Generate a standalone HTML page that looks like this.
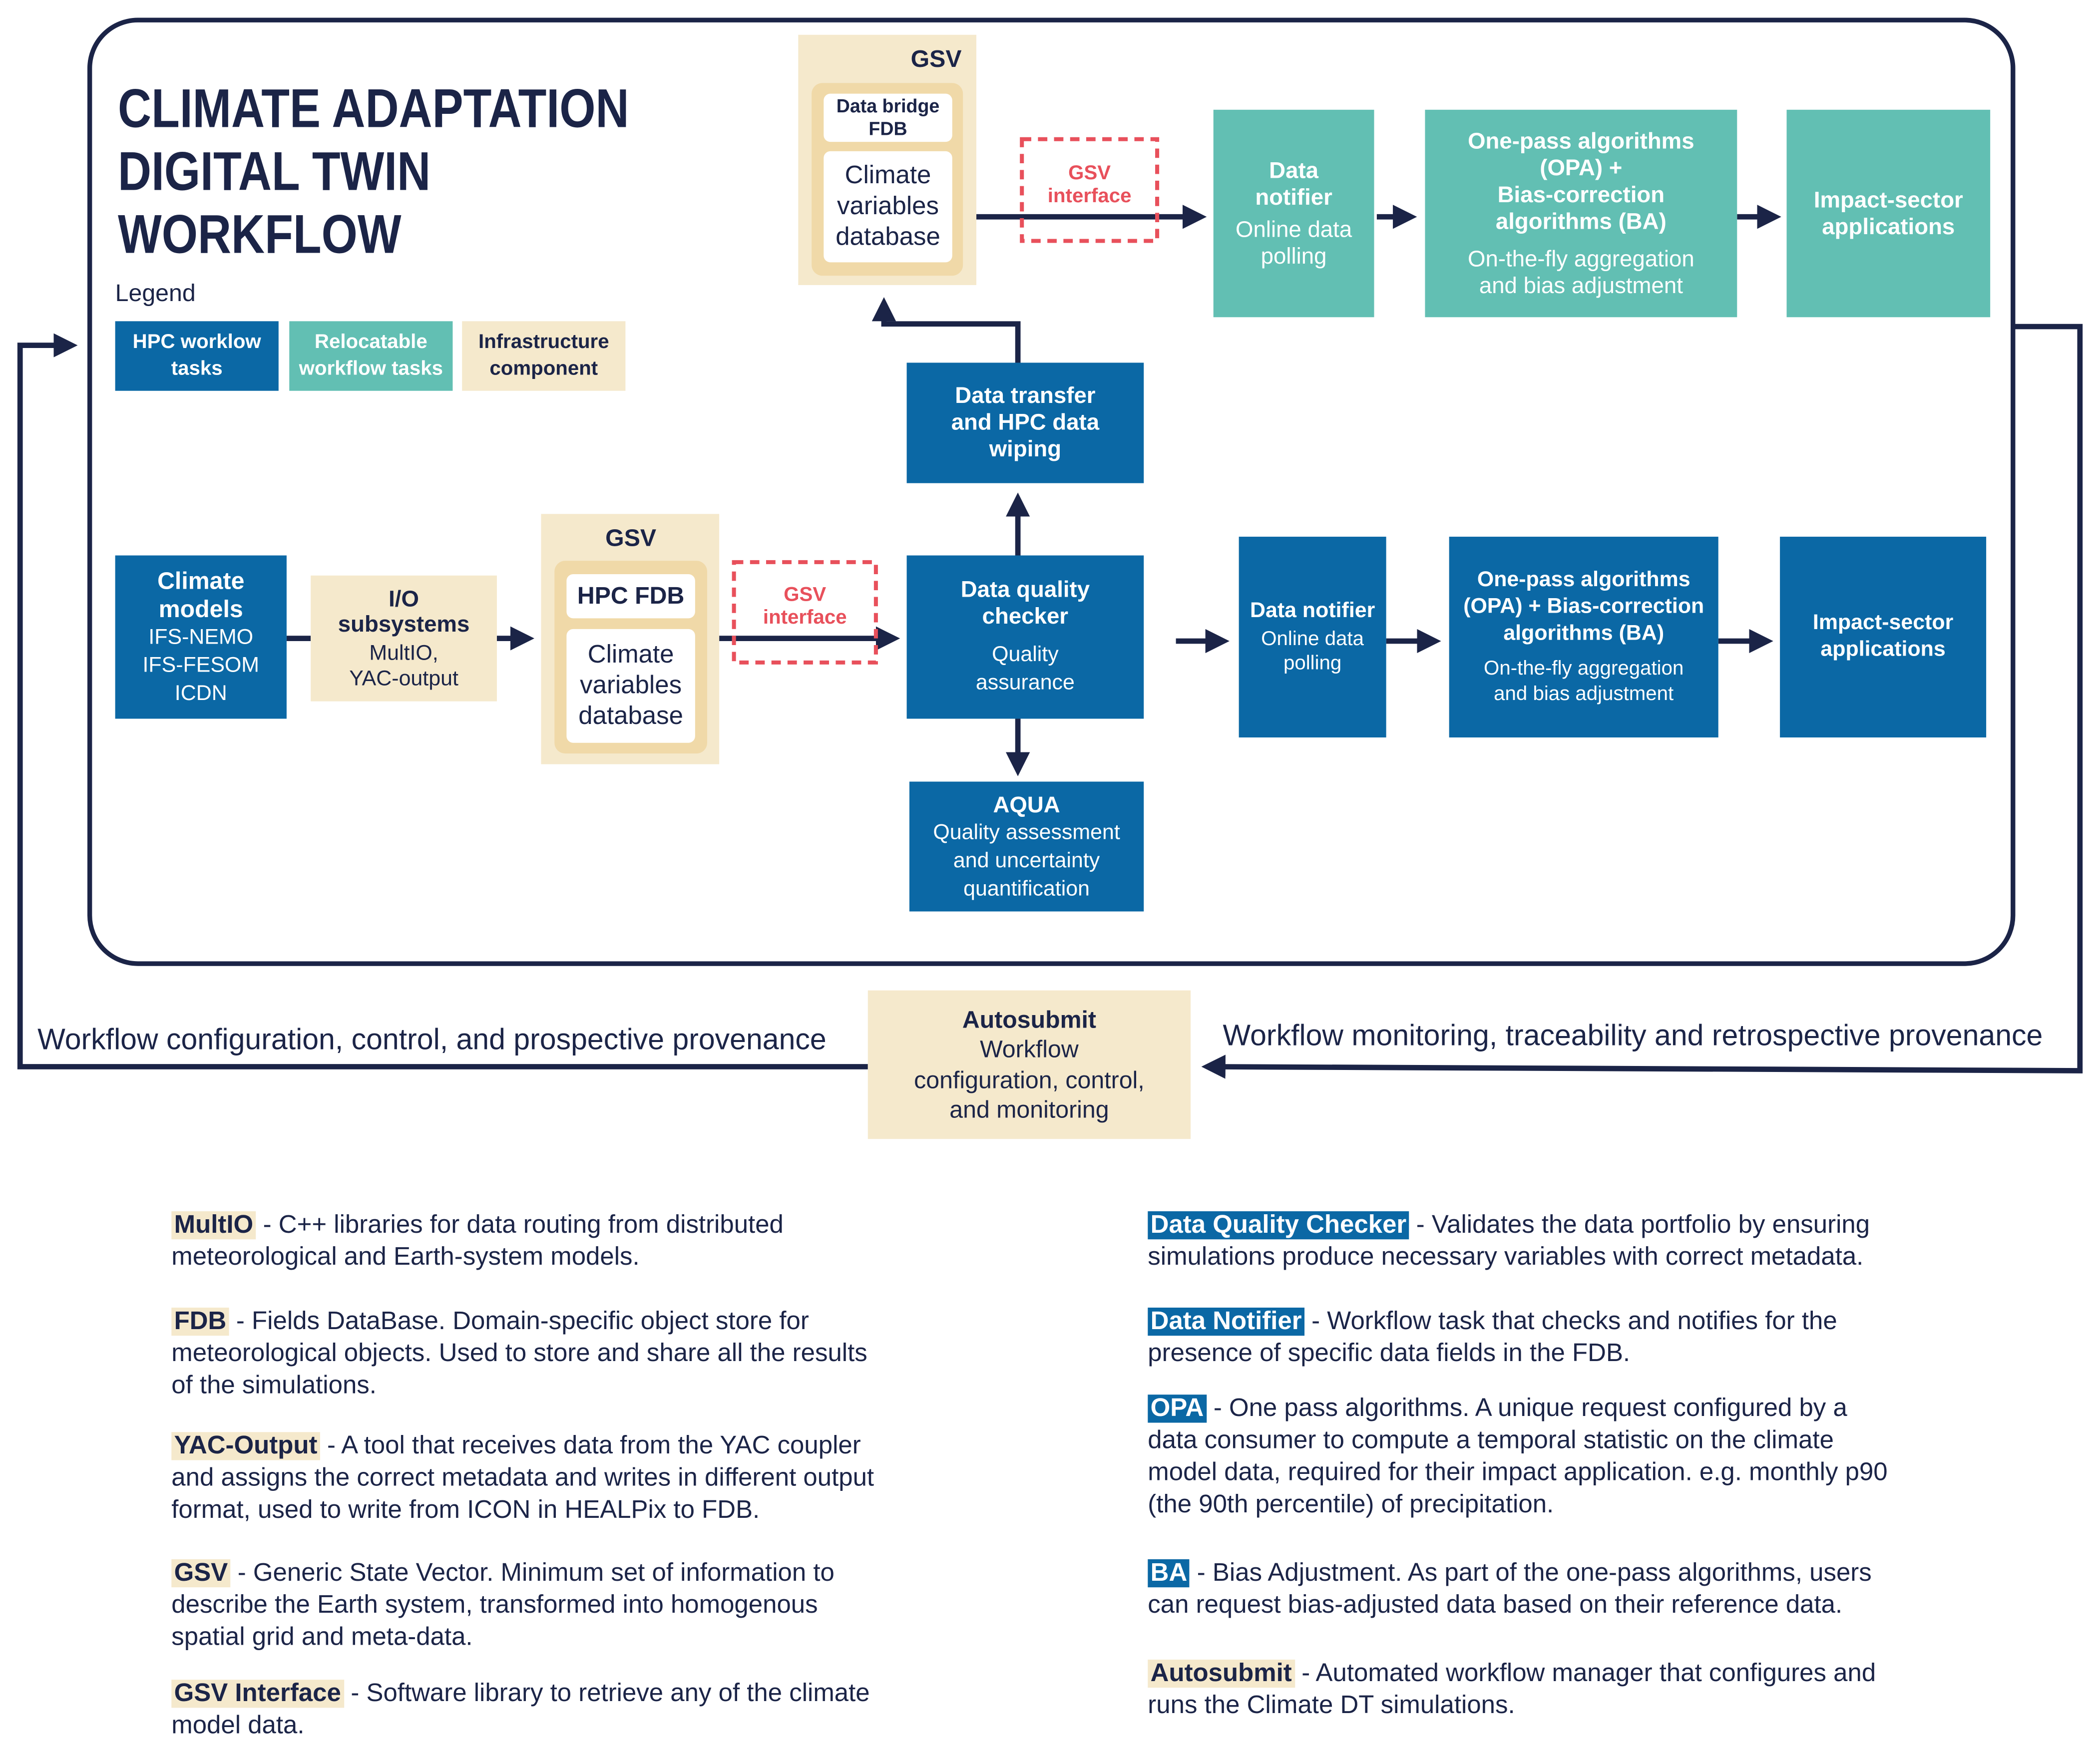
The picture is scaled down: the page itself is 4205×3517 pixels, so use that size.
<!DOCTYPE html>
<html><head><meta charset="utf-8"><style>
html,body{margin:0;padding:0;background:#fff;width:4205px;height:3517px;overflow:hidden}
#w{position:absolute;left:0;top:0;width:1568px;height:1312px;transform:scale(2.6818,2.6806);transform-origin:0 0;font-family:"Liberation Sans Narrow","Liberation Sans",sans-serif;color:#1b2447}
.b{position:absolute;display:flex;flex-direction:column;align-items:center;justify-content:center;text-align:center;box-sizing:border-box}
.blue{background:#0b68a5;color:#fff}
.teal{background:#62bfb3;color:#fff}
.cream{background:#f5e9cc;color:#1b2447}
.in{background:#f0d9a8}
.wh{background:#fff}
b{font-weight:bold}
.t{position:absolute;white-space:nowrap}
.d{position:absolute;font-size:19px;line-height:24px;white-space:nowrap;color:#1b2447}
.hb{background:#0b68a5;color:#fff;font-weight:bold;padding:0 2px}
.hc{background:#f5e9cc;font-weight:bold;padding:0 2px}
</style></head><body><div id="w">
<svg style="position:absolute;left:0;top:0" width="1568" height="1312" viewBox="0 0 1568 1312">
<defs><marker id="a" markerWidth="4.5" markerHeight="4.5" refX="2.5" refY="2.25" orient="auto" markerUnits="strokeWidth"><path d="M0,0 L4.5,2.25 L0,4.5 Z" fill="#1b2447"/></marker></defs>
<rect x="67" y="15" width="1436" height="705" rx="36" fill="none" stroke="#1b2447" stroke-width="3.5"/>
<g stroke="#1b2447" stroke-width="4" fill="none">
<path d="M729,162 H893" marker-end="url(#a)"/>
<path d="M1028,162 H1050" marker-end="url(#a)"/>
<path d="M1297,162 H1322" marker-end="url(#a)"/>
<path d="M1503,244 H1553 V800 L905,797" marker-end="url(#a)"/>
<path d="M648,797 H15 V258 H50" marker-end="url(#a)"/>
<path d="M214,477 H232"/>
<path d="M371,477 H391" marker-end="url(#a)"/>
<path d="M537,477 H664" marker-end="url(#a)"/>
<path d="M760,415 V376" marker-end="url(#a)"/>
<path d="M760,271 V242 H660 V230" marker-end="url(#a)"/>
<path d="M760,537 V572" marker-end="url(#a)"/>
<path d="M878,479 H910" marker-end="url(#a)"/>
<path d="M1035,479 H1068" marker-end="url(#a)"/>
<path d="M1283,479 H1316" marker-end="url(#a)"/>
</g>
<rect x="763" y="104" width="101" height="76" fill="none" stroke="#e8505b" stroke-width="3" stroke-dasharray="7,5"/>
<rect x="548" y="420" width="106" height="75" fill="none" stroke="#e8505b" stroke-width="3" stroke-dasharray="7,5"/>
</svg>
<div class="t" style="left:88px;top:58px;font-size:41px;line-height:47px;font-weight:bold;transform:scaleX(0.845);transform-origin:0 0">CLIMATE ADAPTATION<br>DIGITAL TWIN<br>WORKFLOW</div>
<div class="t" style="left:86px;top:209px;font-size:18px">Legend</div>
<div class="b blue" style="left:86px;top:240px;width:122px;height:52px;font-size:15px;font-weight:bold;line-height:20px">HPC worklow<br>tasks</div>
<div class="b teal" style="left:216px;top:240px;width:122px;height:52px;font-size:15px;font-weight:bold;line-height:20px">Relocatable<br>workflow tasks</div>
<div class="b cream" style="left:345px;top:240px;width:122px;height:52px;font-size:15px;font-weight:bold;line-height:20px">Infrastructure<br>component</div>

<div class="b cream" style="left:596px;top:26px;width:133px;height:187px"></div>
<div class="t" style="left:680px;top:34px;font-size:18px;font-weight:bold">GSV</div>
<div class="b in" style="left:606px;top:62px;width:113px;height:144px;border-radius:8px"></div>
<div class="b wh" style="left:615px;top:70px;width:96px;height:36px;border-radius:5px;font-size:14px;font-weight:bold;line-height:17px">Data bridge<br>FDB</div>
<div class="b wh" style="left:615px;top:113px;width:96px;height:83px;border-radius:5px;font-size:19px;line-height:23px">Climate<br>variables<br>database</div>
<div class="b" style="left:763px;top:118px;width:101px;height:40px;color:#e8505b;font-size:15px;font-weight:bold;line-height:17px">GSV<br>interface</div>

<div class="b teal" style="left:906px;top:82px;width:120px;height:155px;font-size:17px;line-height:20px"><b>Data<br>notifier</b><span style="margin-top:4px">Online data<br>polling</span></div>
<div class="b teal" style="left:1064px;top:82px;width:233px;height:155px;font-size:17px;line-height:20px"><b>One-pass algorithms<br>(OPA) +<br>Bias-correction<br>algorithms (BA)</b><span style="margin-top:8px">On-the-fly aggregation<br>and bias adjustment</span></div>
<div class="b teal" style="left:1334px;top:82px;width:152px;height:155px;font-size:17px;line-height:20px"><b>Impact-sector<br>applications</b></div>

<div class="b blue" style="left:677px;top:271px;width:177px;height:90px;font-size:17px;line-height:20px"><b>Data transfer<br>and HPC data<br>wiping</b></div>

<div class="b blue" style="left:86px;top:415px;width:128px;height:122px;font-size:16px;line-height:21px"><b style="font-size:18px">Climate<br>models</b>IFS-NEMO<br>IFS-FESOM<br>ICDN</div>
<div class="b cream" style="left:232px;top:430px;width:139px;height:94px;font-size:16px;line-height:19px"><b style="font-size:17px">I/O<br>subsystems</b><span style="margin-top:3px">MultIO,<br>YAC-output</span></div>

<div class="b cream" style="left:404px;top:384px;width:133px;height:187px"></div>
<div class="t" style="left:452px;top:392px;font-size:18px;font-weight:bold">GSV</div>
<div class="b in" style="left:414px;top:419px;width:114px;height:144px;border-radius:8px"></div>
<div class="b wh" style="left:423px;top:429px;width:96px;height:33px;border-radius:5px;font-size:18px;font-weight:bold">HPC FDB</div>
<div class="b wh" style="left:423px;top:470px;width:96px;height:85px;border-radius:5px;font-size:19px;line-height:23px">Climate<br>variables<br>database</div>
<div class="b" style="left:548px;top:433px;width:106px;height:40px;color:#e8505b;font-size:15px;font-weight:bold;line-height:17px">GSV<br>interface</div>

<div class="b blue" style="left:677px;top:415px;width:177px;height:122px;font-size:16px;line-height:21px"><b style="font-size:17px;line-height:20px">Data quality<br>checker</b><span style="margin-top:8px">Quality<br>assurance</span></div>
<div class="b blue" style="left:679px;top:584px;width:175px;height:97px;font-size:16px;line-height:21px"><b style="font-size:17px">AQUA</b>Quality assessment<br>and uncertainty<br>quantification</div>

<div class="b blue" style="left:925px;top:401px;width:110px;height:150px;font-size:15px;line-height:18px"><b style="font-size:16px">Data notifier</b><span style="margin-top:3px">Online data<br>polling</span></div>
<div class="b blue" style="left:1082px;top:401px;width:201px;height:150px;font-size:15px;line-height:19px"><b style="font-size:16px;line-height:20px">One-pass algorithms<br>(OPA) + Bias-correction<br>algorithms (BA)</b><span style="margin-top:6px">On-the-fly aggregation<br>and bias adjustment</span></div>
<div class="b blue" style="left:1329px;top:401px;width:154px;height:150px;font-size:16px;line-height:20px"><b>Impact-sector<br>applications</b></div>

<div class="b cream" style="left:648px;top:740px;width:241px;height:111px;font-size:18px;line-height:22.5px"><b>Autosubmit</b>Workflow<br>configuration, control,<br>and monitoring</div>
<div class="t" style="left:28px;top:764px;font-size:22px">Workflow configuration, control, and prospective provenance</div>
<div class="t" style="left:913px;top:761px;font-size:22px">Workflow monitoring, traceability and retrospective provenance</div>

<div class="d" style="left:128px;top:904px"><span class="hc">MultIO</span> - C++ libraries for data routing from distributed<br>meteorological and Earth-system models.</div>
<div class="d" style="left:128px;top:976px"><span class="hc">FDB</span> - Fields DataBase. Domain-specific object store for<br>meteorological objects. Used to store and share all the results<br>of the simulations.</div>
<div class="d" style="left:128px;top:1069px"><span class="hc">YAC-Output</span> - A tool that receives data from the YAC coupler<br>and assigns the correct metadata and writes in different output<br>format, used to write from ICON in HEALPix to FDB.</div>
<div class="d" style="left:128px;top:1164px"><span class="hc">GSV</span> - Generic State Vector. Minimum set of information to<br>describe the Earth system, transformed into homogenous<br>spatial grid and meta-data.</div>
<div class="d" style="left:128px;top:1254px"><span class="hc">GSV Interface</span> - Software library to retrieve any of the climate<br>model data.</div>

<div class="d" style="left:857px;top:904px"><span class="hb">Data Quality Checker</span> - Validates the data portfolio by ensuring<br>simulations produce necessary variables with correct metadata.</div>
<div class="d" style="left:857px;top:976px"><span class="hb">Data Notifier</span> - Workflow task that checks and notifies for the<br>presence of specific data fields in the FDB.</div>
<div class="d" style="left:857px;top:1041px"><span class="hb">OPA</span> - One pass algorithms. A unique request configured by a<br>data consumer to compute a temporal statistic on the climate<br>model data, required for their impact application. e.g. monthly p90<br>(the 90th percentile) of precipitation.</div>
<div class="d" style="left:857px;top:1164px"><span class="hb">BA</span> - Bias Adjustment. As part of the one-pass algorithms, users<br>can request bias-adjusted data based on their reference data.</div>
<div class="d" style="left:857px;top:1239px"><span class="hc">Autosubmit</span> - Automated workflow manager that configures and<br>runs the Climate DT simulations.</div>
</div></body></html>
